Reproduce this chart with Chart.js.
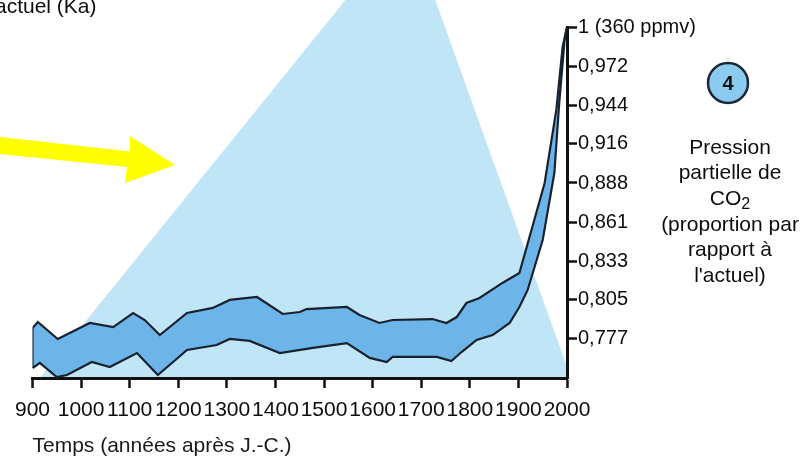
<!DOCTYPE html>
<html>
<head>
<meta charset="utf-8">
<script src="https://cdn.jsdelivr.net/npm/chart.js@4"></script>
<style>
  html, body { margin: 0; padding: 0; background: #ffffff; }
  canvas { display: block; }
</style>
</head>
<body>
<canvas id="c" width="806" height="459"></canvas>
<script>
// ---- Data ----
const upperYears  = [900, 911, 952, 1018, 1066, 1107, 1131, 1162, 1218, 1271, 1306, 1362, 1415, 1450, 1464, 1547, 1573, 1614, 1641, 1723, 1752, 1773, 1793, 1820, 1867, 1902, 1954, 1978, 1991, 2000];
const upperValues = [0.7856, 0.7899, 0.7778, 0.7892, 0.7863, 0.7963, 0.7913, 0.7806, 0.7963, 0.7999, 0.8056, 0.8077, 0.7956, 0.7970, 0.7991, 0.8006, 0.7949, 0.7892, 0.7913, 0.7920, 0.7892, 0.7934, 0.8034, 0.8070, 0.8177, 0.8248, 0.8889, 0.9409, 0.9858, 1.0];
const lowerYears  = [900, 915, 950, 971, 1022, 1059, 1115, 1158, 1218, 1279, 1306, 1347, 1409, 1477, 1547, 1594, 1629, 1641, 1732, 1762, 1783, 1814, 1847, 1882, 1902, 1919, 1950, 1974, 1984, 1995, 2000];
const lowerValues = [0.7571, 0.7607, 0.7507, 0.7521, 0.7614, 0.7578, 0.7678, 0.7521, 0.7700, 0.7735, 0.7778, 0.7764, 0.7678, 0.7714, 0.7749, 0.7643, 0.7614, 0.7650, 0.7650, 0.7621, 0.7685, 0.7771, 0.7806, 0.7892, 0.8006, 0.8127, 0.8483, 0.8960, 0.9459, 0.9907, 1.0];

const xTickYears  = [900, 1000, 1100, 1200, 1300, 1400, 1500, 1600, 1700, 1800, 1900, 2000];
const yTickValues = [1, 0.9722, 0.9444, 0.9167, 0.8889, 0.8611, 0.8333, 0.8056, 0.7778];
const yTickLabels = ['1 (360 ppmv)', '0,972', '0,944', '0,916', '0,888', '0,861', '0,833', '0,805', '0,777'];

// background triangle (year, value) — apex lies above the plotted range
const triangleYears  = [915, 1672, 2000, 2000];
const triangleValues = [0.75, 1.074, 0.758, 0.75];

const sideTextLines = ['Pression', 'partielle de', 'CO2', '(proportion par', 'rapport à', "l'actuel)"];

const FONT = "'Liberation Sans', Arial, Helvetica, sans-serif";
const INK = '#0d0d0d';

const toPts = (xs, ys) => xs.map((v, i) => ({ x: v, y: ys[i] }));

const decor = {
  id: 'decor',
  beforeDraw(chart) {
    const { ctx } = chart;
    const x = chart.scales.x, y = chart.scales.y;
    ctx.save();
    ctx.fillStyle = '#ffffff';
    ctx.fillRect(0, 0, chart.width, chart.height);
    // light-blue triangle
    ctx.beginPath();
    triangleYears.forEach((yr, i) => {
      const px = x.getPixelForValue(yr), py = y.getPixelForValue(triangleValues[i]);
      if (i === 0) ctx.moveTo(px, py); else ctx.lineTo(px, py);
    });
    ctx.closePath();
    ctx.fillStyle = '#c0e5f7';
    ctx.fill();
    // yellow arrow (annotation)
    ctx.beginPath();
    ctx.moveTo(0, 137);
    ctx.lineTo(130, 151.5);
    ctx.lineTo(130, 136);
    ctx.lineTo(175, 165);
    ctx.lineTo(125, 183);
    ctx.lineTo(127, 167);
    ctx.lineTo(0, 154);
    ctx.closePath();
    ctx.fillStyle = '#ffff00';
    ctx.fill();
    ctx.restore();
  },
  afterDraw(chart) {
    const { ctx } = chart;
    ctx.save();
    ctx.fillStyle = INK;
    // cut-off label at top-left
    ctx.font = '21px ' + FONT;
    ctx.textAlign = 'left';
    ctx.textBaseline = 'alphabetic';
    ctx.fillText('actuel (Ka)', -5, 13);

    // circled number
    ctx.beginPath();
    ctx.arc(728, 83, 20, 0, Math.PI * 2);
    ctx.fillStyle = '#8ccbf0';
    ctx.fill();
    ctx.lineWidth = 2.5;
    ctx.strokeStyle = '#1c2633';
    ctx.stroke();
    ctx.fillStyle = INK;
    ctx.font = 'bold 20px ' + FONT;
    ctx.textAlign = 'center';
    ctx.textBaseline = 'middle';
    ctx.fillText('4', 728, 84);

    // side caption
    ctx.font = '21px ' + FONT;
    const cx = 730, y0 = 148, dy = 25.6;
    sideTextLines.forEach((t, i) => {
      const ty = y0 + i * dy;
      if (t === 'CO2') {
        const main = 'CO', sub = '2';
        ctx.font = '21px ' + FONT;
        const w1 = ctx.measureText(main).width;
        ctx.font = '16px ' + FONT;
        const w2 = ctx.measureText(sub).width;
        const left = cx - (w1 + w2) / 2;
        ctx.textAlign = 'left';
        ctx.font = '21px ' + FONT;
        ctx.fillText(main, left, ty);
        ctx.font = '16px ' + FONT;
        ctx.fillText(sub, left + w1, ty + 5);
        ctx.font = '21px ' + FONT;
        ctx.textAlign = 'center';
      } else {
        ctx.fillText(t, cx, ty);
      }
    });
    ctx.restore();
  }
};

const lineStyle = {
  borderColor: '#18222e',
  borderWidth: 2.2,
  pointRadius: 0,
  pointHoverRadius: 0,
  tension: 0
};

new Chart(document.getElementById('c'), {
  type: 'line',
  data: {
    datasets: [
      Object.assign({ label: 'max', data: toPts(upperYears, upperValues), fill: '+1', backgroundColor: '#6db5e8' }, lineStyle),
      Object.assign({ label: 'min', data: toPts(lowerYears, lowerValues), fill: false }, lineStyle),
      Object.assign({ label: 'edge', data: [{ x: upperYears[0], y: upperValues[0] }, { x: lowerYears[0], y: lowerValues[0] }], fill: false }, lineStyle)
    ]
  },
  options: {
    responsive: false,
    animation: false,
    devicePixelRatio: 1,
    layout: { padding: { left: 32.5, top: 27, right: 0, bottom: 0 } },
    plugins: {
      legend: { display: false },
      tooltip: { enabled: false },
      filler: { drawTime: 'beforeDatasetsDraw' }
    },
    scales: {
      x: {
        type: 'linear',
        position: 'bottom',
        min: 900,
        max: 2000,
        afterBuildTicks: s => { s.ticks = xTickYears.map(v => ({ value: v })); },
        afterFit: s => { s.height = 81; },
        ticks: {
          callback: v => String(v),
          autoSkip: false,
          maxRotation: 0,
          minRotation: 0,
          padding: 10,
          color: INK,
          font: { family: FONT, size: 21 }
        },
        grid: { drawOnChartArea: false, drawTicks: true, tickLength: 10, tickWidth: 2.5, color: '#111111' },
        border: { display: true, color: '#111111', width: 3 },
        title: {
          display: true,
          text: 'Temps (années après J.-C.)',
          align: 'start',
          color: '#1a1a1a',
          font: { family: FONT, size: 21 },
          padding: { top: 0, bottom: 0 }
        }
      },
      y: {
        type: 'linear',
        position: 'right',
        min: 0.75,
        max: 1,
        afterBuildTicks: s => { s.ticks = yTickValues.map(v => ({ value: v })); },
        afterFit: s => { s.width = 239; },
        ticks: {
          callback: (v, i) => yTickLabels[i],
          autoSkip: false,
          padding: 1,
          color: INK,
          font: { family: FONT, size: 20 }
        },
        grid: { drawOnChartArea: false, drawTicks: true, tickLength: 10, tickWidth: 2.5, color: '#111111' },
        border: { display: true, color: '#111111', width: 3 }
      }
    }
  },
  plugins: [decor]
});
</script>
</body>
</html>
